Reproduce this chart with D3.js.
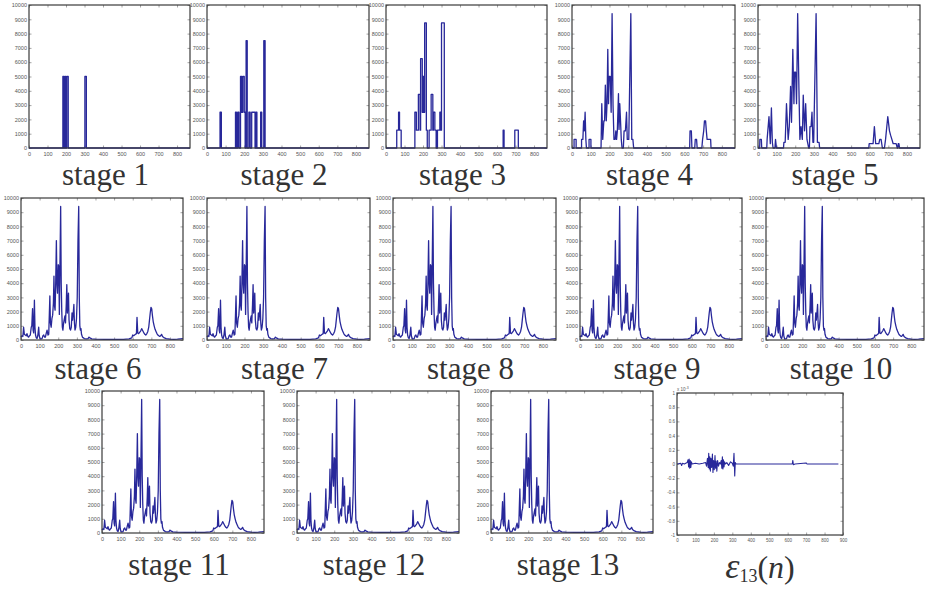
<!DOCTYPE html>
<html>
<head>
<meta charset="utf-8">
<script src="https://cdn.jsdelivr.net/npm/d3@7"></script>
<style>
  body { margin: 0; background: #fff; }
  svg { display: block; }
</style>
</head>
<body>
<div id="chart"></div>
<script>
// tick values
const countTicks = [0, 1000, 2000, 3000, 4000, 5000, 6000, 7000, 8000, 9000, 10000];
const nTicks = [0, 100, 200, 300, 400, 500, 600, 700, 800];
const errTicks = [-1, -0.8, -0.6, -0.4, -0.2, 0, 0.2, 0.4, 0.6, 0.8, 1];
const errNTicks = [0, 100, 200, 300, 400, 500, 600, 700, 800, 900];

const stageLabels = ["stage 1", "stage 2", "stage 3", "stage 4", "stage 5", "stage 6", "stage 7",
    "stage 8", "stage 9", "stage 10", "stage 11", "stage 12", "stage 13"];

// [n, value] points
const stage1 = [[0,0],[183,0],[183,5000],[188,5000],[188,0],[193,0],[193,5000],[198,5000],[198,0],
    [204,0],[204,5000],[212,5000],[212,0],[302,0],[302,5000],[310,5000],[310,0],[870,0]];

const stage2 = [[0,0],[70,0],[70,2500],[77,2500],[77,0],[153,0],[153,2500],[158,2500],[158,0],
    [165,0],[165,2500],[172,2500],[172,0],[180,0],[180,5000],[186,5000],[186,2500],[192,2500],
    [192,5000],[200,5000],[200,2500],[205,2500],[205,0],[210,0],[210,7500],[216,7500],[216,0],
    [225,0],[225,2500],[232,2500],[232,0],[240,0],[240,2500],[258,2500],[258,0],[263,0],[263,2500],
    [268,2500],[268,0],[288,0],[288,2500],[294,2500],[294,0],[305,0],[305,7500],[312,7500],[312,0],[870,0]];

const stage3 = [[0,0],[58,0],[58,1250],[68,1250],[68,2500],[73,2500],[73,1250],[82,1250],[82,0],
    [156,0],[156,2500],[164,2500],[164,1250],[175,1250],[175,3750],[184,3750],[184,1250],[187,1250],
    [187,6250],[196,6250],[196,2500],[200,2500],[200,5000],[205,5000],[205,2500],[209,2500],
    [209,8750],[218,8750],[218,1250],[223,1250],[223,0],[233,0],[233,1250],[244,1250],[244,3750],
    [253,3750],[253,1250],[256,1250],[256,2500],[264,2500],[264,1250],[271,1250],[271,0],[278,0],
    [278,1250],[291,1250],[291,2500],[296,2500],[296,1250],[300,1250],[300,8750],[315,8750],[315,0],
    [633,0],[633,1250],[638,1250],[638,0],[696,0],[696,1250],[715,1250],[715,0],[870,0]];

const stage4 = [[0,0],[11,0],[11,600],[22,600],[22,0],[51,0],[51,600],[58,600],[62,1900],[66,1200],
    [70,2500],[74,600],[77,0],[91,0],[91,600],[101,600],[101,0],[155,0],[159,3100],[164,600],
    [170,1900],[174,1900],[178,4400],[183,1900],[187,3100],[191,6900],[195,3100],[198,5000],
    [204,5000],[209,2500],[214,9400],[219,3000],[224,600],[230,600],[234,1200],[238,600],[242,1200],
    [248,3800],[251,1300],[255,3100],[259,1900],[263,600],[267,0],[274,0],[278,1200],[285,1200],
    [291,2500],[295,600],[303,600],[314,9400],[319,600],[325,600],[329,0],[628,0],[630,1200],
    [637,1200],[640,0],[655,0],[658,600],[665,600],[668,0],[693,0],[697,600],[703,1200],[707,1900],
    [713,1900],[717,1200],[721,600],[740,600],[742,0],[870,0]];

const stage5 = [[0,0],[9,0],[10,600],[18,600],[20,0],[47,0],[49,600],[59,2200],[66,300],[72,2800],
    [77,400],[81,0],[91,0],[94,600],[99,0],[137,0],[139,400],[146,400],[153,3100],[162,600],
    [168,1500],[175,4300],[180,1800],[187,6900],[193,3100],[196,5300],[202,5300],[207,3100],
    [213,9400],[220,4000],[225,600],[231,1500],[238,600],[243,3700],[250,1200],[256,3100],[263,600],
    [272,0],[276,0],[279,1500],[285,1500],[290,2500],[295,400],[299,400],[312,9400],[319,400],
    [328,400],[331,0],[595,0],[597,300],[604,300],[610,300],[618,300],[625,1500],[632,300],[649,300],
    [654,600],[661,600],[668,0],[679,0],[685,600],[697,2200],[706,1200],[712,900],[719,600],[726,300],
    [742,300],[748,0],[751,0],[753,300],[757,300],[760,0],[870,0]];

const finalStage = [[0,200],[5,300],[10,250],[14,900],[18,400],[23,350],[28,300],[32,450],[37,250],
    [41,200],[46,300],[50,350],[55,900],[58,1000],[62,2200],[65,700],[68,500],[72,2800],[75,900],
    [78,350],[82,150],[86,100],[90,300],[95,900],[98,300],[102,100],[108,80],[113,100],[118,300],
    [122,350],[127,200],[131,200],[136,500],[140,700],[145,350],[149,400],[155,3100],[158,1200],
    [162,900],[166,1500],[170,1750],[174,2600],[177,4500],[180,2400],[183,2100],[186,3700],
    [190,7000],[193,4000],[196,3300],[200,5300],[203,5200],[206,1800],[209,5000],[213,9400],
    [216,4000],[219,2000],[222,900],[225,700],[229,1200],[233,1500],[236,1700],[239,1200],
    [243,2500],[246,3900],[249,1900],[252,2600],[255,3300],[258,1400],[262,800],[266,700],[270,900],
    [274,1900],[277,1400],[280,1800],[284,2500],[287,1200],[290,700],[294,900],[298,1500],
    [302,3000],[306,7000],[310,9400],[313,3000],[316,1000],[319,700],[322,800],[325,400],[330,200],
    [335,150],[340,100],[350,80],[360,100],[365,200],[370,150],[380,80],[400,60],[450,40],[500,40],
    [550,50],[580,80],[595,150],[600,350],[605,300],[610,350],[615,400],[620,450],[623,1600],
    [627,500],[632,450],[638,550],[643,650],[648,800],[652,700],[656,600],[660,500],[665,400],
    [670,350],[676,450],[681,600],[686,900],[690,1400],[694,1900],[698,2300],[702,2200],[706,1700],
    [710,1300],[715,1000],[720,750],[725,600],[730,450],[735,350],[740,300],[745,250],[750,300],
    [755,400],[760,250],[765,200],[770,150],[780,100],[790,80],[800,60],[820,50],[840,60],[855,80],
    [870,100]];

const errorSeries = [[0,0],[20,0.01],[25,-0.02],[30,0.01],[40,0],[55,0.02],[60,0.06],[63,-0.04],
    [66,0.07],[69,-0.06],[72,0.05],[75,-0.05],[78,0.03],[82,0],[100,0.01],[120,0],[140,0.01],
    [155,0.02],[160,-0.03],[165,0.08],[169,-0.05],[172,0.15],[175,-0.07],[178,0.1],[181,-0.1],
    [184,0.08],[188,-0.05],[192,0.14],[195,-0.12],[198,0.05],[202,-0.08],[206,0.12],[209,-0.06],
    [212,0.04],[216,-0.1],[220,0.05],[225,-0.03],[230,0.02],[235,0],[240,0.05],[243,-0.06],
    [246,0.1],[249,-0.07],[252,0.06],[255,-0.04],[258,0.03],[262,0],[270,0.02],[280,-0.02],
    [290,0.03],[300,0.01],[305,-0.03],[309,0.15],[313,-0.17],[316,0.02],[320,0],[400,0],[500,0],
    [600,0],[625,0],[628,0.05],[631,-0.01],[640,0],[700,0.015],[705,0],[875,0]];

const stageSeries = [stage1, stage2, stage3, stage4, stage5,
    finalStage, finalStage, finalStage, finalStage, finalStage, finalStage, finalStage, finalStage];

// panel boxes (plot area) in page pixels
const panels = [
    { left: 29, top: 5, right: 190, bottom: 148 },
    { left: 207, top: 5, right: 369, bottom: 148 },
    { left: 386, top: 5, right: 547, bottom: 148 },
    { left: 572, top: 5, right: 735, bottom: 148 },
    { left: 758, top: 5, right: 920, bottom: 148 },
    { left: 21, top: 198, right: 183, bottom: 340 },
    { left: 207, top: 198, right: 370, bottom: 340 },
    { left: 393, top: 198, right: 556, bottom: 340 },
    { left: 580, top: 198, right: 742, bottom: 340 },
    { left: 766, top: 198, right: 924, bottom: 340 },
    { left: 102, top: 391, right: 264, bottom: 533 },
    { left: 297, top: 391, right: 459, bottom: 533 },
    { left: 491, top: 391, right: 653, bottom: 533 }
];
const errPanel = { left: 677, top: 393, right: 843, bottom: 535 };
const labelBaselines = [185, 185, 185, 185, 185, 379, 379, 379, 379, 379, 575, 575, 575];

const lineColor = "#28289a";
const boxColor = "#3a3a3a";
const tickColor = "#555";

const svg = d3.select("#chart")
    .append("svg")
        .attr("width", 925)
        .attr("height", 592);

function drawPanel(p, series, xDomain, xTickVals, yDomain, yTickVals, yFmt) {
    const w = p.right - p.left;
    const h = p.bottom - p.top;
    const g = svg.append("g")
        .attr("transform", `translate(${p.left}, ${p.top})`);

    const x = d3.scaleLinear().domain(xDomain).range([0, w]);
    const y = d3.scaleLinear().domain(yDomain).range([h, 0]);

    // ticks inward on all four sides, like matlab
    g.append("g")
        .attr("transform", `translate(0, ${h})`)
        .call(d3.axisBottom(x).tickValues(xTickVals).tickSize(-2.5).tickPadding(4).tickFormat(d => String(d)));
    g.append("g")
        .call(d3.axisTop(x).tickValues(xTickVals).tickSize(-2.5).tickFormat(""));
    g.append("g")
        .call(d3.axisLeft(y).tickValues(yTickVals).tickSize(-2.5).tickPadding(2).tickFormat(yFmt));
    g.append("g")
        .attr("transform", `translate(${w}, 0)`)
        .call(d3.axisRight(y).tickValues(yTickVals).tickSize(-2.5).tickFormat(""));

    g.selectAll(".domain").remove();
    g.selectAll(".tick line").attr("stroke", "#666").attr("stroke-width", 0.6);
    g.selectAll(".tick text")
        .attr("fill", null)
        .style("fill", tickColor)
        .style("font-family", "'Liberation Sans', Arial, sans-serif")
        .style("font-size", "5.5px");

    const line = d3.line()
        .x(d => x(d[0]))
        .y(d => y(d[1]));

    g.append("path")
        .datum(series)
        .attr("fill", "none")
        .attr("stroke", lineColor)
        .attr("stroke-width", 1.3)
        .attr("stroke-linejoin", "round")
        .attr("d", line);

    g.append("rect")
        .attr("width", w)
        .attr("height", h)
        .attr("fill", "none")
        .attr("stroke", boxColor)
        .attr("stroke-width", 1.2);

    return g;
}

stageSeries.forEach(function(s, i) {
    const p = panels[i];
    drawPanel(p, s, [0, 870], nTicks, [0, 10000], countTicks, d => String(d));

    svg.append("text")
        .attr("x", (p.left + p.right) / 2 - 4)
        .attr("y", labelBaselines[i])
        .attr("text-anchor", "middle")
        .style("font-family", "'Liberation Serif', 'Times New Roman', serif")
        .style("font-size", "31px")
        .style("fill", "#333")
        .text(stageLabels[i]);
});

// error panel
const eg = drawPanel(errPanel, errorSeries, [0, 900], errNTicks, [-1, 1], errTicks, d => String(d));
eg.selectAll(".tick text").style("font-size", "4.5px");
eg.select("path").attr("stroke-width", 1.1);

const expLabel = eg.append("text")
    .attr("x", 0)
    .attr("y", -2)
    .style("font-family", "'Liberation Sans', Arial, sans-serif")
    .style("font-size", "4.5px")
    .style("fill", tickColor);
expLabel.append("tspan").text("x 10");
expLabel.append("tspan").attr("dy", -2).style("font-size", "3.5px").text("-3");

const epsLabel = svg.append("text")
    .attr("x", (errPanel.left + errPanel.right) / 2)
    .attr("y", 578)
    .attr("text-anchor", "middle")
    .style("font-family", "'Liberation Serif', 'Times New Roman', serif")
    .style("fill", "#333");
epsLabel.append("tspan")
    .style("font-size", "36px")
    .style("font-style", "italic")
    .text("ε");
epsLabel.append("tspan")
    .attr("dy", 4)
    .style("font-size", "18px")
    .text("13");
epsLabel.append("tspan")
    .attr("dy", -4)
    .style("font-size", "32px")
    .text("(");
epsLabel.append("tspan")
    .style("font-size", "32px")
    .style("font-style", "italic")
    .text("n");
epsLabel.append("tspan")
    .style("font-size", "32px")
    .text(")");
</script>
</body>
</html>
